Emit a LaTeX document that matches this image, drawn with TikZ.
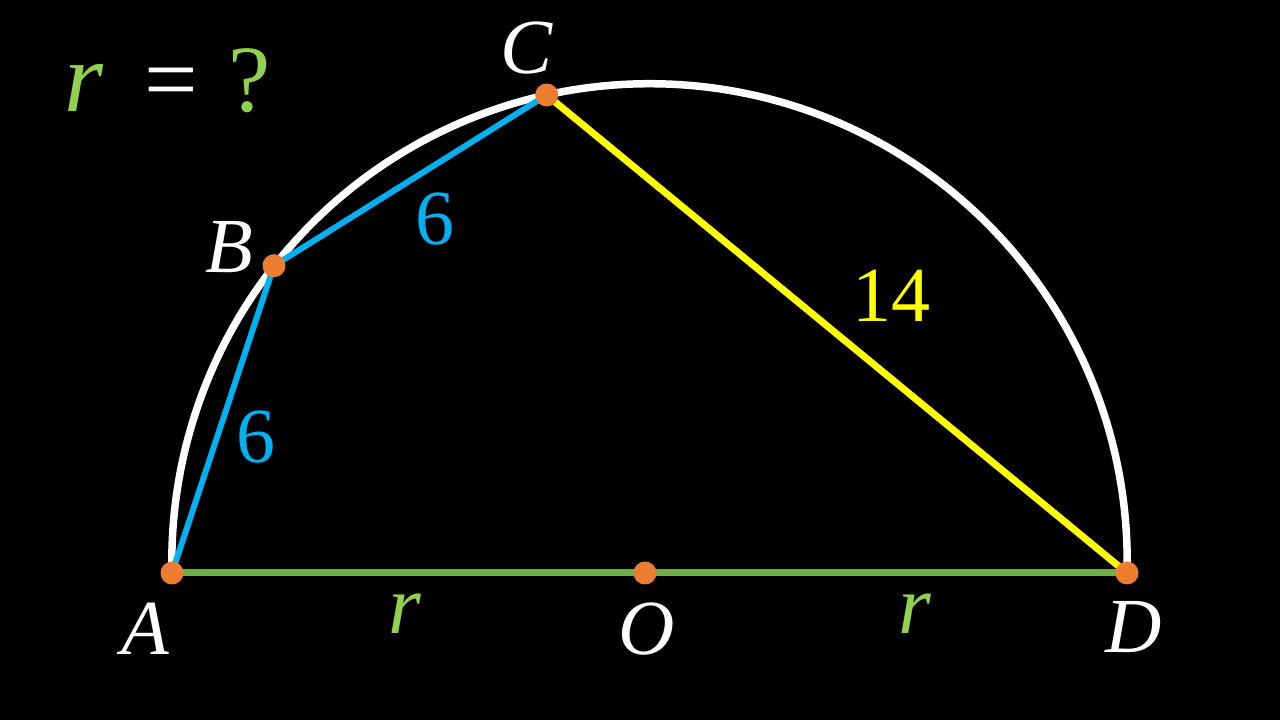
\documentclass[tikz,border=0pt]{standalone}
\usepackage{fontspec}
\setmainfont{Liberation Serif}
\definecolor{lgreen}{HTML}{70AD47}
\definecolor{tgreen}{HTML}{92D050}
\definecolor{cblue}{HTML}{00B0F0}
\definecolor{cyell}{HTML}{FFFF00}
\definecolor{dorange}{HTML}{ED7D31}
\begin{document}
\begin{tikzpicture}[x=1pt,y=1pt,
  ptlabel/.style={anchor=base, text=white, font=\fontsize{78}{80}\selectfont\itshape, inner sep=0pt},
  seglabel/.style={anchor=base, font=\fontsize{78}{80}\selectfont, inner sep=0pt},
  rlabel/.style={anchor=base, text=tgreen, font=\fontsize{84}{86}\selectfont\itshape, inner sep=0pt},
  biglabel/.style={anchor=base, font=\fontsize{95}{98}\selectfont, inner sep=0pt},
  dot/.style={circle, fill=dorange, minimum size=23pt, inner sep=0pt}]
\fill[black] (0,0) rectangle (1280,720);
\useasboundingbox (0,0) rectangle (1280,720);
% points
\coordinate (pA) at (172,147);
\coordinate (pB) at (274,454.3);
\coordinate (pC) at (546.7,625);
\coordinate (pD) at (1127,147);
\coordinate (pO) at (645,147);
\coordinate (cen) at (649.5,158.6);
% arc
\draw[white, line width=7.5pt] ([shift={(-1.39:477.7)}]cen) arc (-1.39:181.39:477.7);
% segments
\draw[lgreen, line width=7pt] (pA) -- (pD);
\draw[cblue, line width=6pt, line join=round] (pA) -- (pB) -- (pC);
\draw[cyell, line width=7pt] (pC) -- (pD);
% dots
\node[dot] (A) at (pA) {};
\node[dot] (B) at (pB) {};
\node[dot] (C) at (pC) {};
\node[dot] (D) at (pD) {};
\node[dot] (O) at (pO) {};
% point labels
\node[ptlabel] (lA) at (145,65) {A};
\node[ptlabel] (lB) at (229,447) {B};
\node[ptlabel] (lC) at (527,646) {C};
\node[ptlabel] (lD) at (1134,67) {D};
\node[ptlabel] (lO) at (647,65) {O};
% segment labels
\node[rlabel] (r1) at (405,86) {r};
\node[rlabel] (r2) at (915,86) {r};
\node[seglabel, text=cblue] (s1) at (435,475) {6};
\node[seglabel, text=cblue] (s2) at (256,257) {6};
\node[seglabel, text=cyell] (s3) at (891,398) {14};
% title
\node[biglabel, text=tgreen, font=\fontsize{100}{100}\selectfont\itshape] (tr) at (84,608) {r};
\node[biglabel, text=white] (teq) at (171,608) {=};
\node[biglabel, text=tgreen] (tq) at (250,608) {?};
\end{tikzpicture}
\end{document}
